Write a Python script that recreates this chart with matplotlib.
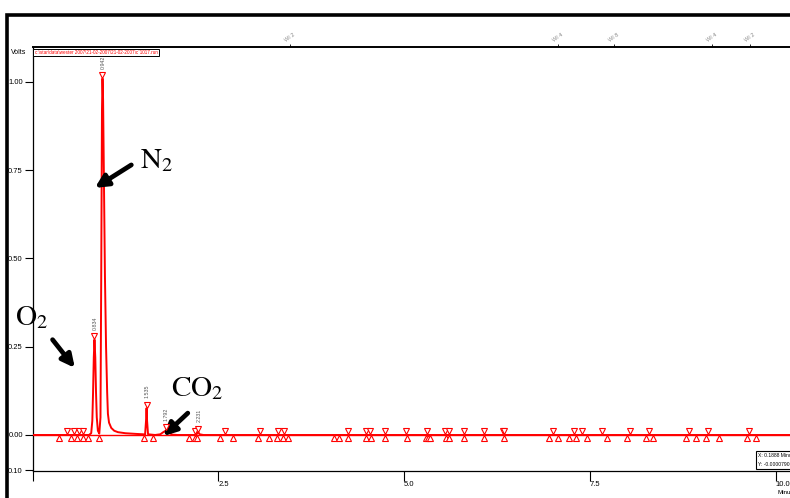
import matplotlib
matplotlib.use('Agg')
import matplotlib.pyplot as plt
from matplotlib.patches import Rectangle
from matplotlib.transforms import offset_copy

plt.rcParams['font.family'] = ['Liberation Sans', 'DejaVu Sans']
plt.rcParams['mathtext.fontset'] = 'stix'

# chromatogram trace (minutes, volts)
time_min = [0.0, 0.76, 0.79, 0.805, 0.815, 0.825, 0.834, 0.845, 0.855, 0.865, 0.88,
            0.899, 0.915, 0.925, 0.935, 0.942, 0.95, 0.96, 0.975, 0.99, 1.005,
            1.015, 1.03, 1.06, 1.10, 1.15, 1.25, 1.40, 1.49, 1.515, 1.528, 1.535,
            1.542, 1.555, 1.65, 1.72, 1.76, 1.792, 1.83, 1.88, 1.95, 2.20, 2.215,
            2.231, 2.25, 2.30, 10.3]
volts = [0.0, 0.0, 0.005, 0.04, 0.12, 0.22, 0.27, 0.22, 0.12, 0.05, 0.012,
         0.004, 0.05, 0.45, 0.92, 1.01, 0.95, 0.75, 0.45, 0.25, 0.12,
         0.06, 0.035, 0.02, 0.012, 0.008, 0.005, 0.003, 0.002, 0.001, 0.04, 0.076,
         0.04, 0.002, 0.0, 0.002, 0.008, 0.012, 0.007, 0.001, 0.0, 0.0, 0.004,
         0.008, 0.002, 0.0, 0.0]

# labelled peaks
peak_times = [0.834, 0.942, 1.535, 1.792, 2.231]
peak_volts = [0.27, 1.01, 0.076, 0.012, 0.008]
peak_labels = ['0.834', '0.942', '1.535', '1.792', '2.231']

# integration marks on the baseline
start_marks = [0.460, 0.559, 0.622, 0.684, 2.191, 2.591, 3.062, 3.300, 3.381,
               4.242, 4.482, 4.542, 4.747, 5.023, 5.312, 5.552, 5.599, 5.810,
               6.073, 6.328, 6.342, 7.001, 7.288, 7.392, 7.661, 8.035, 8.295,
               8.836, 9.092, 9.637]
end_marks = [0.361, 0.514, 0.603, 0.680, 0.747, 0.899, 1.501, 1.626, 2.110,
             2.187, 2.210, 2.524, 2.705, 3.039, 3.179, 3.295, 3.365, 3.439,
             4.062, 4.128, 4.246, 4.482, 4.559, 4.751, 5.036, 5.300, 5.327,
             5.350, 5.565, 5.610, 5.812, 6.077, 6.342, 6.958, 7.075, 7.218,
             7.315, 7.467, 7.727, 8.004, 8.257, 8.358, 8.791, 8.930, 9.071,
             9.239, 9.616, 9.733]

# time events on top axis
event_times = [3.466, 7.073, 7.826, 9.145, 9.657]
event_labels = ['WI 2', 'WI 4', 'WI 8', 'WI 4', 'WI 2']

y_ticks = [-0.10, 0.0, 0.25, 0.50, 0.75, 1.00]
y_tick_labels = ['0.10', '0.00', '0.25', '0.50', '0.75', '1.00']
x_ticks = [0.0, 2.5, 5.0, 7.5, 10.0]
x_tick_labels = ['', '2.5', '5.0', '7.5', '10.0']

W, H = 790, 498
fig = plt.figure(figsize=(7.9, 4.98), dpi=100)
ax = fig.add_axes([32.5 / W, 1 - 471 / H, (W - 32.5) / W, (471 - 47) / H])

red = '#ff0000'
ax.axhline(0, color=red, lw=1.0, zorder=2)
ax.plot(time_min, volts, color=red, lw=1.4, zorder=3)

down_tr = offset_copy(ax.transData, fig=fig, y=3.5, units='dots')
up_tr = offset_copy(ax.transData, fig=fig, y=-3.5, units='dots')
mk = dict(ls='none', markersize=5, markerfacecolor='white', markeredgecolor=red,
          markeredgewidth=0.8, zorder=4, clip_on=False)
ax.plot(start_marks, [0] * len(start_marks), 'v', transform=down_tr, **mk)
ax.plot(peak_times, peak_volts, 'v', transform=down_tr, **mk)
ax.plot(end_marks, [0] * len(end_marks), '^', transform=up_tr, **mk)

for t, v, lab in zip(peak_times, peak_volts, peak_labels):
    ax.annotate(lab, (t, v), xytext=(0.5, 7), textcoords='offset points',
                rotation=90, ha='center', va='bottom', fontsize=3.8, color='#555555')

ax.set_xlim(0, (W - 32.5) / 74.3)
ax.set_ylim(-0.102, 1.099)
ax.set_yticks(y_ticks, y_tick_labels)
ax.set_xticks(x_ticks, x_tick_labels, ha='left')
ax.tick_params(axis='y', direction='out', length=6, width=0.8, labelsize=5.5, pad=1)
ax.tick_params(axis='x', direction='out', length=7, width=0.8, labelsize=5.5, pad=0)
ax.spines['right'].set_visible(False)
for s in ['left', 'bottom']:
    ax.spines[s].set_linewidth(0.9)
ax.spines['top'].set_linewidth(1.4)

top = ax.secondary_xaxis('top')
top.set_ticks(event_times, event_labels)
top.tick_params(length=2, width=0.6, labelsize=4, labelcolor='#888888',
                labelrotation=35, pad=1)
top.spines['top'].set_visible(False)

# file legend box
ax.text(0.003, 0.993, 'c:\\star\\data\\wester 2007\\21-02-2007\\21-02-2007\\c`1017.run',
        transform=ax.transAxes, fontsize=3.3, color=red, ha='left', va='top',
        bbox=dict(boxstyle='square,pad=0.3', fc='white', ec='black', lw=0.7))

# gas labels with arrows
serif = dict(fontsize=21, color='black')
arrow = dict(arrowstyle='-|>', lw=3.4, color='black', mutation_scale=19,
             shrinkA=0, shrinkB=0)
ax.annotate('', xy=(0.84, 0.70), xytext=(1.33, 0.765), arrowprops=arrow)
ax.text(1.45, 0.755, r'$\mathrm{N}_2$', **serif)
ax.annotate('', xy=(0.57, 0.19), xytext=(0.27, 0.27), arrowprops=arrow)
ax.text(-0.24, 0.31, r'$\mathrm{O}_2$', **serif)
ax.annotate('', xy=(1.76, -0.003), xytext=(2.09, 0.062), arrowprops=arrow)
ax.text(1.86, 0.11, r'$\mathrm{CO}_2$', **serif)

# outer frame of the window
fig.add_artist(Rectangle((7 / W, -0.1), 1.2, 1 - 15 / H + 0.1, transform=fig.transFigure,
                         fill=False, ec='black', lw=2.6))

fig.text(11 / W, 1 - 52 / H, 'Volts', fontsize=5, va='center', ha='left')
fig.text(778 / W, 1 - 492 / H, 'Minutes', fontsize=4.5, va='center', ha='left')
fig.text(758 / W, 1 - 460 / H, 'X: 0.1888 Minutes\nY: -0.0000790 Volts', fontsize=3.6,
         va='center', ha='left', linespacing=1.8,
         bbox=dict(boxstyle='square,pad=0.5', fc='white', ec='black', lw=0.8))

fig.savefig('out.png', dpi=100)
